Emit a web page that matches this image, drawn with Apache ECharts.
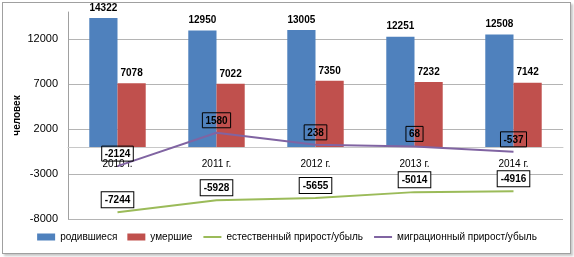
<!DOCTYPE html>
<html>
<head>
<meta charset="utf-8">
<script src="https://cdn.jsdelivr.net/npm/echarts@6/dist/echarts.min.js"></script>
<style>
  html, body { margin: 0; padding: 0; background: #fff; }
  #chart { width: 574px; height: 257px; }
  #frame { position: absolute; left: 2px; top: 2px; width: 567px; height: 250px;
           border: 1px solid #a0a0a0; box-shadow: 2px 2px 2px #c8c8c8; pointer-events: none; }
</style>
</head>
<body>
<div id="chart"></div>
<div id="frame"></div>
<script>
var years = ["2010 г.", "2011 г.", "2012 г.", "2013 г.", "2014 г."];
var born = [14322, 12950, 13005, 12251, 12508];
var died = [7078, 7022, 7350, 7232, 7142];
var natural = [-7244, -5928, -5655, -5014, -4916];
var migration = [-2124, 1580, 238, 68, -537];

var chartDom = document.getElementById("chart");
var myChart = echarts.init(chartDom);
var font = "Liberation Sans";

const barLabel = {
  show: true,
  position: "top",
  distance: 5,
  fontFamily: font,
  fontSize: 10,
  fontWeight: "bold",
  color: "#000",
};
const boxLabel = {
  show: true,
  position: "top",
  distance: 5,
  fontFamily: font,
  fontSize: 10,
  fontWeight: "bold",
  color: "#000",
  borderColor: "#000",
  borderWidth: 1,
  padding: [3, 3, 2, 3],
};

var option = {
  animation: false,
  textStyle: { fontFamily: font },
  legend: {
    bottom: 10,
    left: "center",
    itemGap: 10,
    itemWidth: 18,
    itemHeight: 7,
    textStyle: { fontFamily: font, fontSize: 10, color: "#000" },
    data: [
      { name: "родившиеся", icon: "rect" },
      { name: "умершие", icon: "rect" },
      { name: "естественный прирост/убыль", itemStyle: { opacity: 0 } },
      { name: "миграционный прирост/убыль", itemStyle: { opacity: 0 } },
    ],
  },
  grid: { left: 68, right: 11, top: 12, bottom: 38 },
  xAxis: {
    type: "category",
    data: years,
    offset: -72,
    axisLine: { onZero: false, lineStyle: { color: "#c8c8c8" } },
    axisTick: { show: false },
    axisLabel: { fontFamily: font, fontSize: 10, color: "#000", margin: 12 },
  },
  yAxis: {
    type: "value",
    min: -8000,
    max: 15000,
    interval: 5000,
    name: "человек",
    nameLocation: "middle",
    nameGap: 46,
    nameMoveOverlap: false,
    nameTextStyle: { fontFamily: font, fontSize: 10, fontWeight: "bold", color: "#000" },
    axisLine: { show: true, lineStyle: { color: "#a0a0a0" } },
    axisTick: { show: false },
    axisLabel: {
      fontFamily: font, fontSize: 11, color: "#000", margin: 10, showMaxLabel: false,
      formatter: function (v) { return String(v); },
    },
    splitLine: { showMaxLine: false, lineStyle: { color: "#b4b4b4" } },
  },
  series: [
    {
      name: "родившиеся",
      type: "bar",
      barGap: 0,
      barCategoryGap: "43%",
      itemStyle: { color: "#4F81BD" },
      label: barLabel,
      data: born,
    },
    {
      name: "умершие",
      type: "bar",
      itemStyle: { color: "#C0504D" },
      label: barLabel,
      data: died,
    },
    {
      name: "естественный прирост/убыль",
      type: "line",
      symbol: "circle",
      symbolSize: 0,
      lineStyle: { color: "#9BBB59", width: 2 },
      itemStyle: { color: "#9BBB59" },
      label: Object.assign({}, boxLabel, { backgroundColor: "#fff" }),
      data: natural,
    },
    {
      name: "миграционный прирост/убыль",
      type: "line",
      symbol: "circle",
      symbolSize: 0,
      lineStyle: { color: "#8064A2", width: 2 },
      itemStyle: { color: "#8064A2" },
      label: boxLabel,
      data: migration,
    },
  ],
};

option && myChart.setOption(option);
</script>
</body>
</html>
